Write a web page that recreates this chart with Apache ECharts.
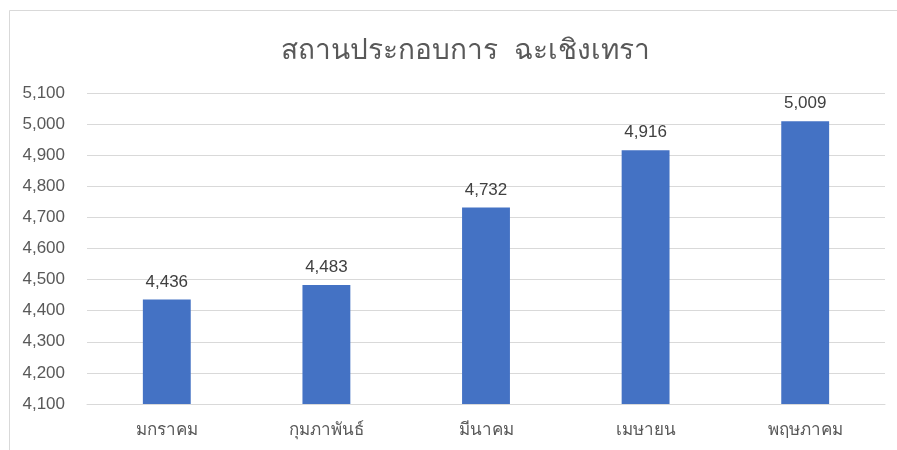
<!DOCTYPE html>
<html><head><meta charset="utf-8">
<script src="https://cdn.jsdelivr.net/npm/echarts@6/dist/echarts.min.js"></script>
<style>html,body{margin:0;padding:0;background:#fff;}#c{width:897px;height:450px;}</style>
</head><body><div id="c"></div>
<script>
const categories = ['มกราคม', 'กุมภาพันธ์', 'มีนาคม', 'เมษายน', 'พฤษภาคม'];
const values = [4436, 4483, 4732, 4916, 5009];
const titleText = 'สถานประกอบการ  ฉะเชิงเทรา';
const chart = echarts.init(document.getElementById('c'));
chart.setOption({
  animation: false,
  backgroundColor: '#fff',
  graphic: [{type:'rect', shape:{x:9.5,y:10.5,width:900,height:460}, style:{fill:'none', stroke:'#d9d9d9', lineWidth:1}, silent:true}],
  title: {text: titleText, left: 276, top: 32, textStyle:{fontSize:28, fontWeight:'normal', color:'#595959', fontFamily:'sans-serif'}},
  grid: {left: 87, right: 12, top: 93, bottom: 46, containLabel:false},
  xAxis: {type:'category', data: categories,
    axisLine:{show:true, lineStyle:{color:'#d9d9d9'}}, axisTick:{show:false},
    axisLabel:{fontSize:17, color:'#595959', margin:18, fontFamily:'sans-serif'}},
  yAxis: {type:'value', min:4100, max:5100, interval:100,
    axisLine:{show:false}, axisTick:{show:false},
    splitLine:{lineStyle:{color:'#d9d9d9'}},
    axisLabel:{fontSize:17, color:'#595959', margin:22, fontFamily:'sans-serif',
      formatter: v => v.toLocaleString('en-US')}},
  series: [{type:'bar', data: values, barWidth:'30%', itemStyle:{color:'#4472c4'},
    label:{show:true, position:'top', distance:9, fontSize:17, color:'#404040', fontFamily:'sans-serif',
      formatter: p => p.value.toLocaleString('en-US')}}]
});
</script></body></html>
